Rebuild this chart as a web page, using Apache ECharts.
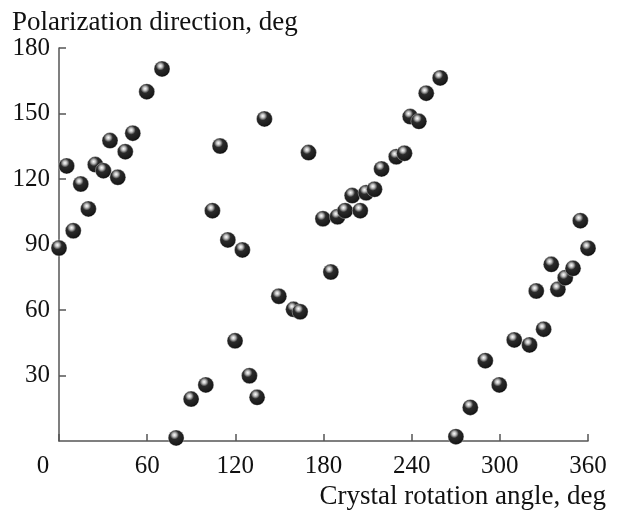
<!DOCTYPE html>
<html>
<head>
<meta charset="utf-8">
<script src="https://cdn.jsdelivr.net/npm/echarts@6/dist/echarts.min.js"></script>
<style>html,body{margin:0;padding:0;background:#fff}#c{width:622px;height:510px}</style>
</head>
<body>
<div id="c"></div>
<script>
// Crystal rotation angle (deg) and polarization direction (deg)
var angles1 = [0, 5.2, 9.7, 14.8, 20, 24.7, 30.2, 34.7, 40, 45.1, 50.2, 59.7, 70.1];
var dirs1   = [88.4, 126, 96.3, 117.7, 106.3, 126.6, 123.8, 137.6, 120.8, 132.5, 141, 160, 170.4];

var angles2 = [79.7, 89.9, 99.9, 104.4, 109.6, 114.9, 119.8, 124.8, 129.6, 134.8, 139.8, 149.6, 159.6, 164.1, 169.8,
               179.6, 185, 189.5, 194.7, 199.5, 205, 209, 214.7, 219.5, 229.5, 235.1, 239, 244.9, 249.9, 259.4];
var dirs2   = [1.4, 19.2, 25.7, 105.5, 135.1, 92.1, 45.9, 87.5, 29.9, 20, 147.5, 66.3, 60.3, 59.2, 132.1,
               101.8, 77.4, 102.7, 105.5, 112.4, 105.5, 113.7, 115.3, 124.6, 130.2, 131.8, 148.6, 146.4, 159.3, 166.3];

var angles3 = [270.1, 279.9, 290.1, 299.6, 309.8, 320.2, 324.8, 329.8, 335, 339.5, 344.5, 349.8, 354.8, 360];
var dirs3   = [2, 15.4, 36.8, 25.7, 46.3, 44, 68.7, 51.2, 80.9, 69.5, 74.8, 79.1, 100.9, 88.3];

var xTicks = [0, 60, 120, 180, 240, 300, 360];
var yTicks = [0, 30, 60, 90, 120, 150, 180];

var yTitle = 'Polarization direction, deg';
var xTitle = 'Crystal rotation angle, deg';

function pairs(a, b) { return a.map(function (v, i) { return [v, b[i]]; }); }
var points = pairs(angles1, dirs1).concat(pairs(angles2, dirs2), pairs(angles3, dirs3));

var FONT = '"Liberation Serif", "Times New Roman", serif';
var chart = echarts.init(document.getElementById('c'), null, {renderer: 'canvas'});
chart.setOption({
  animation: false,
  backgroundColor: '#fff',
  title: [
    {text: yTitle, left: 12, top: 9, padding: 0, textStyle: {fontFamily: FONT, fontSize: 27, fontWeight: 'normal', color: '#111'}},
    {text: xTitle, right: 16, top: 483, padding: 0, textStyle: {fontFamily: FONT, fontSize: 27, fontWeight: 'normal', color: '#111'}}
  ],
  grid: {left: 59, right: 34, top: 48, bottom: 69, containLabel: false},
  xAxis: {
    type: 'value', min: xTicks[0], max: xTicks[xTicks.length - 1], interval: xTicks[1] - xTicks[0],
    axisLine: {show: true, lineStyle: {color: '#555', width: 1.5}},
    axisTick: {show: true, inside: true, length: 7, lineStyle: {color: '#555', width: 1.5}},
    splitLine: {show: false},
    axisLabel: {
      fontFamily: FONT, fontSize: 25, color: '#111', margin: 13,
      formatter: function (v) { return v === 0 ? '{z|0}' : String(v); },
      rich: {z: {fontFamily: FONT, fontSize: 25, color: '#111', padding: [0, 32, 0, 0]}}
    }
  },
  yAxis: {
    type: 'value', min: yTicks[0], max: yTicks[yTicks.length - 1], interval: yTicks[1] - yTicks[0],
    axisLine: {show: true, lineStyle: {color: '#555', width: 1.5}},
    axisTick: {show: true, inside: true, length: 7, lineStyle: {color: '#555', width: 1.5}},
    splitLine: {show: false},
    axisLabel: {fontFamily: FONT, fontSize: 25, color: '#111', margin: 9, showMinLabel: false}
  },
  series: [{
    type: 'scatter',
    data: points,
    symbol: 'circle',
    symbolSize: 16,
    z: 5,
    itemStyle: {
      opacity: 1,
      borderColor: 'rgba(255,255,255,0.6)', borderWidth: 0.6,
      color: {
        type: 'radial', x: 0.4, y: 0.32, r: 0.68,
        colorStops: [
          {offset: 0, color: '#ffffff'},
          {offset: 0.18, color: '#bbbbbb'},
          {offset: 0.4, color: '#2a2a2a'},
          {offset: 0.85, color: '#1a1a1a'},
          {offset: 1, color: '#000000'}
        ]
      }
    }
  }]
});
</script>
</body>
</html>
